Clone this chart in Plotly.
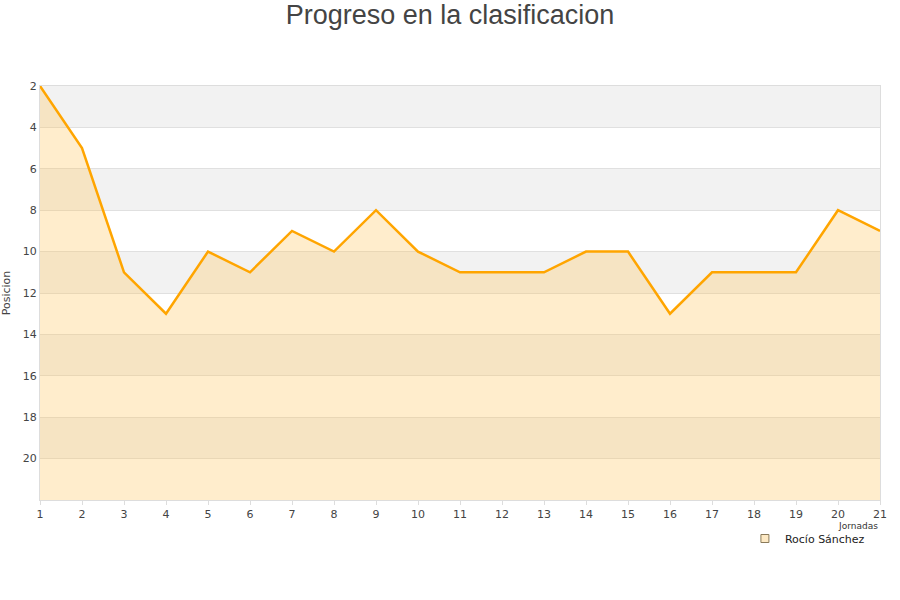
import plotly.graph_objects as go

jornadas = list(range(1, 22))
posiciones = [2, 5, 11, 13, 10, 11, 9, 10, 8, 10, 11, 11, 11, 10, 10, 13, 11, 11, 11, 8, 9]
y_ticks = [2, 4, 6, 8, 10, 12, 14, 16, 18, 20]
band_starts = [2, 6, 10, 14, 18]
serie = "Rocío Sánchez"
y_bottom = 22

fig = go.Figure()
fig.add_trace(go.Scatter(x=jornadas, y=[y_bottom] * len(jornadas), mode="lines",
                         line=dict(width=0, color="rgba(0,0,0,0)"), showlegend=False,
                         hoverinfo="skip"))
fig.add_trace(go.Scatter(x=jornadas, y=posiciones, mode="lines", name=serie,
                         line=dict(color="#FFA500", width=2.5), showlegend=False,
                         fill="tonexty", fillcolor="rgba(255,195,85,0.3)"))
fig.add_trace(go.Scatter(x=[None], y=[None], mode="markers", name=serie,
                         marker=dict(symbol="square", size=8, color="#fde9c4",
                                     line=dict(color="#8a7a5a", width=1))))

for s in band_starts:
    fig.add_shape(type="rect", xref="paper", yref="y", x0=0, x1=1, y0=s, y1=s + 2,
                  fillcolor="#f2f2f2", line=dict(width=0), layer="below")

fig.add_annotation(text="Jornadas", xref="paper", yref="paper", x=1, y=-0.062,
                   xanchor="right", yanchor="middle", showarrow=False,
                   font=dict(size=9, color="#333", family="DejaVu Sans"))

fig.update_layout(
    width=900, height=600,
    paper_bgcolor="white", plot_bgcolor="white",
    margin=dict(l=40, r=20, t=86, b=100, autoexpand=False),
    title=dict(text="Progreso en la clasificacion", x=0.5, xanchor="center",
               y=0.975, yanchor="middle",
               font=dict(size=27, color="#444", family="Liberation Sans")),
    font=dict(family="DejaVu Sans", size=11, color="#444"),
    showlegend=True,
    legend=dict(x=0.988, y=-0.058, xanchor="right", yanchor="top", bgcolor="rgba(255,255,255,0)",
                font=dict(size=11, color="#222")),
    xaxis=dict(range=[1, 21], tickmode="array", tickvals=jornadas, showgrid=False,
               zeroline=False, showline=True, linecolor="#dddddd", mirror=True,
               ticks="outside", ticklen=4, tickcolor="#dddddd", automargin=False),
    yaxis=dict(range=[22, 2], tickmode="array", tickvals=y_ticks, showgrid=True,
               gridcolor="#e0e0e0", zeroline=False, showline=True, linecolor="#dddddd",
               mirror=True, automargin=False,
               title=dict(text="Posicion", standoff=9, font=dict(size=11))),
)

fig.write_html("out.html", config={"displayModeBar": False},
               post_script="document.body.style.margin='0';")
